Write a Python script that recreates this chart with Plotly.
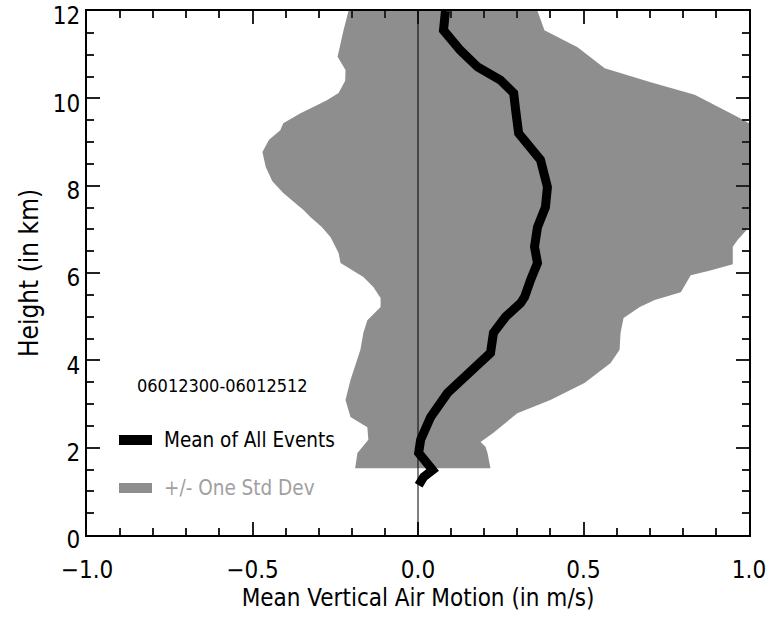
import plotly.graph_objects as go

# Mean vertical air motion profile (m/s) vs height (km)
mean_height = [1.14, 1.33, 1.49, 1.72, 1.88, 2.18, 2.70, 3.25, 3.85, 4.17, 4.63, 5.00, 5.31, 5.45,
               5.84, 6.23, 6.60, 7.05, 7.51, 7.97, 8.59, 8.98, 9.20, 9.73, 10.12, 10.42, 10.72,
               11.10, 11.56, 12.0]
mean_wind = [0.002, 0.017, 0.044, 0.017, 0.002, 0.008, 0.038, 0.089, 0.180, 0.219, 0.228, 0.265,
             0.310, 0.322, 0.340, 0.361, 0.352, 0.361, 0.385, 0.391, 0.370, 0.330, 0.304, 0.295,
             0.289, 0.249, 0.180, 0.128, 0.077, 0.083]

# Left edge of +/- one std dev band
left_height = [1.53, 1.88, 2.18, 2.47, 2.70, 3.09, 3.55, 4.24, 4.63, 4.92, 5.22, 5.43, 5.68, 5.91,
               6.23, 6.46, 6.82, 7.05, 7.28, 7.44, 7.83, 8.10, 8.43, 8.77, 9.05, 9.27, 9.43,
               9.66, 9.85, 9.96, 10.12, 10.40, 10.65, 10.95, 11.56, 12.0]
left_wind = [-0.190, -0.183, -0.150, -0.153, -0.204, -0.219, -0.204, -0.174, -0.165, -0.153,
             -0.113, -0.113, -0.135, -0.165, -0.234, -0.240, -0.264, -0.290, -0.325, -0.346,
             -0.407, -0.440, -0.460, -0.470, -0.450, -0.416, -0.407, -0.355, -0.304, -0.274,
             -0.240, -0.220, -0.219, -0.243, -0.225, -0.210]

# Right edge of +/- one std dev band
right_height = [1.53, 1.88, 2.02, 2.13, 2.34, 2.47, 2.79, 3.09, 3.48, 3.94, 4.24, 4.63, 4.97,
                5.22, 5.38, 5.56, 5.95, 6.05, 6.20, 6.60, 6.76, 7.05, 7.30, 8.00, 8.80, 9.43,
                9.57, 10.08, 10.37, 10.69, 11.17, 11.56, 12.0]
right_wind = [0.219, 0.210, 0.204, 0.189, 0.228, 0.249, 0.300, 0.400, 0.503, 0.582, 0.609,
              0.612, 0.621, 0.670, 0.715, 0.794, 0.824, 0.880, 0.951, 0.951, 0.966, 1.000,
              1.040, 1.060, 1.060, 1.000, 0.966, 0.836, 0.703, 0.564, 0.482, 0.382, 0.361]

period_label = "06012300-06012512"
legend_labels = ["Mean of All Events", "+/- One Std Dev"]

FONT = "DejaVu Sans Condensed, DejaVu Sans, sans-serif"
GREY = "#8e8e8e"

band_x = left_wind + right_wind[::-1]
band_y = left_height + right_height[::-1]

fig = go.Figure()
fig.add_trace(go.Scatter(x=band_x, y=band_y, fill="toself", fillcolor=GREY,
                         line=dict(width=0, color=GREY), mode="lines",
                         hoverinfo="skip", showlegend=False))
fig.add_trace(go.Scatter(x=mean_wind, y=mean_height, mode="lines",
                         line=dict(color="black", width=9), showlegend=False))

# zero reference line
fig.add_shape(type="line", xref="x", yref="paper", x0=0, x1=0, y0=0, y1=1,
              line=dict(color="black", width=1), layer="above")

PW, PH, PL, PB = 662.0, 524.0, 87.0, 535.0


def px(xp):
    return (xp - PL) / PW


def py(yp):
    return (PB - yp) / PH


# legend-like annotations
fig.add_annotation(xref="paper", yref="paper", x=px(222), y=py(385),
                   xanchor="center", yanchor="middle",
                   text=period_label, showarrow=False,
                   font=dict(family=FONT, size=18, color="black"))
fig.add_shape(type="rect", xref="paper", yref="paper",
              x0=px(119), x1=px(152), y0=py(445), y1=py(435),
              fillcolor="black", line=dict(width=0))
fig.add_annotation(xref="paper", yref="paper", x=px(162), y=py(440),
                   xanchor="left", yanchor="middle",
                   text=legend_labels[0], showarrow=False,
                   font=dict(family=FONT, size=20.5, color="black"))
fig.add_shape(type="rect", xref="paper", yref="paper",
              x0=px(119), x1=px(152), y0=py(493), y1=py(483),
              fillcolor=GREY, line=dict(width=0))
fig.add_annotation(xref="paper", yref="paper", x=px(162), y=py(488),
                   xanchor="left", yanchor="middle",
                   text=legend_labels[1], showarrow=False,
                   font=dict(family=FONT, size=20.5, color="#a0a0a0"))

axis_common = dict(showline=True, mirror="ticks", linecolor="black", linewidth=2,
                   ticks="inside", tickcolor="#222", tickwidth=2, ticklen=13,
                   showgrid=False, zeroline=False, ticklabeloverflow="allow",
                   automargin=False,
                   tickfont=dict(family=FONT, size=24, color="black"))

fig.update_layout(
    width=777, height=628,
    margin=dict(l=87, r=28, t=11, b=93),
    paper_bgcolor="white", plot_bgcolor="white",
    showlegend=False,
    xaxis=dict(range=[-1, 1], dtick=0.5, tick0=-1, tickformat=".1f",
               ticklabelstandoff=12,
               minor=dict(dtick=0.1, ticks="inside", ticklen=7, tickwidth=2, tickcolor="#222"),
               title=dict(text="Mean Vertical Air Motion (in m/s)", standoff=3,
                          font=dict(family=FONT, size=24, color="black")),
               **axis_common),
    yaxis=dict(range=[0, 12], dtick=2, tick0=0, ticklabelshift=5,
               minor=dict(dtick=0.5, ticks="inside", ticklen=7, tickwidth=2, tickcolor="#222"),
               title=dict(text="Height (in km)", standoff=7,
                          font=dict(family=FONT, size=26, color="black")),
               **axis_common),
)

fig.write_html("out.html")
